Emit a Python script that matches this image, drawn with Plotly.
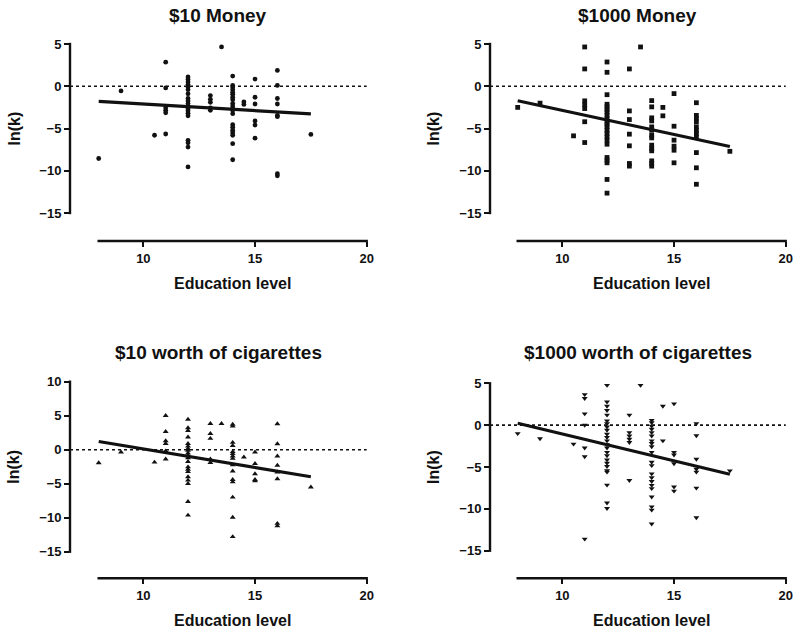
import plotly.graph_objects as go

# ---------------- data (education level -> ln(k) values) ----------------
money10 = {
    8: [-8.55], 9: [-0.55], 10.5: [-5.8],
    11: [2.85, -0.2, -2.55, -2.85, -3.15, -5.65],
    12: [1.1, 0.8, 0.5, 0.2, -0.1, -0.4, -0.9, -1.45, -1.75, -2.05, -2.35, -2.65,
         -2.9, -3.2, -3.5, -6.4, -6.7, -7.2, -9.55],
    13: [-1.1, -1.55, -1.9, -2.55, -2.85],
    13.5: [4.65],
    14: [1.2, 0.1, -0.1, -0.4, -0.7, -0.95, -1.3, -1.6, -2.05, -2.35, -2.65, -2.85,
         -3.25, -4.55, -4.85, -5.2, -5.5, -5.8, -6.8, -8.7],
    14.5: [-1.85, -2.15],
    15: [0.85, -1.3, -2.1, -4.1, -4.6, -6.15],
    16: [1.87, 0.1, -1.45, -2.1, -3.45, -3.6, -10.35, -10.6],
    17.5: [-5.7],
}
money1000 = {
    8: [-2.5], 9: [-2.0], 10.5: [-5.87],
    11: [4.65, 2.05, -1.73, -2.17, -2.64, -4.2, -6.66],
    12: [2.87, 1.65, -1.0, -2.13, -2.44, -2.76, -3.07, -3.43, -3.82, -4.22, -4.49,
         -4.81, -5.2, -5.59, -5.99, -6.38, -6.86, -8.43, -8.75, -9.06, -11.03, -12.65],
    13: [2.05, -2.92, -3.94, -5.67, -7.05, -9.14, -9.45],
    13.5: [4.65],
    14: [-1.7, -2.44, -3.74, -4.1, -4.81, -5.2, -5.79, -6.11, -6.97, -7.37, -7.64,
         -8.83, -9.14, -9.45],
    14.5: [-2.5, -3.5],
    15: [-0.87, -4.73, -6.38, -7.09, -7.57, -9.06],
    16: [-1.95, -3.45, -3.8, -4.2, -4.8, -5.2, -5.6, -6.0, -7.85, -9.65, -11.6],
    17.5: [-7.7],
}
cig10 = {
    8: [-1.95], 9: [-0.35], 10.5: [-1.85],
    11: [5.0, 2.65, 1.3, 0.9, -0.2, -1.4],
    12: [4.45, 3.2, 2.8, 1.85, 0.9, 0.5, 0.15, -0.1, -0.5, -0.85, -1.2, -1.75,
         -2.55, -2.9, -3.25, -4.0, -4.5, -5.0, -7.65, -9.65],
    13: [3.82, 2.35, 1.65, -1.4, -1.9],
    13.5: [3.82],
    14: [3.72, 3.45, 1.05, 0.6, -0.3, -0.6, -0.95, -1.3, -2.25, -3.15, -4.4, -4.75,
         -7.0, -9.95, -12.8],
    14.5: [-1.1],
    15: [-0.35, -2.05, -3.55, -4.4, -4.6],
    16: [3.8, 0.85, -0.95, -2.3, -3.3, -4.3, -10.85, -11.2],
    17.5: [-5.5],
}
cig1000 = {
    8: [-1.0], 9: [-1.6], 10.5: [-2.25],
    11: [3.67, 3.2, 1.37, 0.0, -2.72, -3.75, -13.6],
    12: [4.77, 2.79, 2.28, 1.77, 1.22, 0.51, 0.19, -0.2, -0.59, -1.07, -1.46, -1.86,
         -2.33, -2.72, -3.24, -3.63, -4.14, -4.54, -4.93, -5.41, -5.6, -7.15, -9.28, -9.94],
    13: [1.22, -0.87, -1.27, -1.66, -2.06, -6.6],
    13.5: [4.77],
    14: [0.59, 0.31, -0.1, -0.47, -0.87, -1.27, -1.86, -2.17, -2.57, -3.24, -4.42,
         -4.82, -5.8, -6.27, -6.71, -7.18, -7.57, -8.57, -9.75, -10.14, -11.8],
    14.5: [2.28, -1.86],
    15: [2.56, -3.24, -3.55, -4.6, -7.38, -7.86],
    16: [0.2, -1.25, -4.05, -5.25, -5.6, -7.5, -11.05],
    17.5: [-5.45],
}

titles = ["$10 Money", "$1000 Money", "$10 worth of cigarettes", "$1000 worth of cigarettes"]
datasets = [money10, money1000, cig10, cig1000]
symbols = ["circle", "square", "triangle-up", "triangle-down"]
fit_slope = [-0.155, -0.57, -0.545, -0.64]
fit_intercept = [-0.56, 2.84, 5.56, 5.34]
y_spans = [[-15, 5], [-15, 5], [-15, 10], [-15, 5]]
y_ticks = [[5, 0, -5, -10, -15], [5, 0, -5, -10, -15],
           [10, 5, 0, -5, -10, -15], [5, 0, -5, -10, -15]]
x_ticks = [10, 15, 20]
x_span = [8, 20]

# ---------------- layout (pixel geometry) ----------------
W, H = 800, 633
# per panel: y-axis x px, x-axis left/right px (x=8 / x=20), y-axis top/bottom px, x-axis y px
geom = [
    dict(yax=70, xl=98.7, xr=366.7, yt=44, yb=213, xay=241, ty=15, xty=283, ylx=14),
    dict(yax=490, xl=517.7, xr=785.7, yt=44, yb=213, xay=241, ty=15, xty=283, ylx=433),
    dict(yax=70, xl=98.7, xr=366.7, yt=381.7, yb=551.7, xay=578.3, ty=353, xty=620, ylx=14),
    dict(yax=490, xl=517.7, xr=785.7, yt=383.3, yb=550.7, xay=578.3, ty=353, xty=620, ylx=433),
]

FONT = "Liberation Sans, Arial, Helvetica, sans-serif"
INK = "#111111"
AXW = 2.4

fig = go.Figure()
layout = dict(width=W, height=H, margin=dict(l=0, r=0, t=0, b=0, pad=0),
              paper_bgcolor="white", plot_bgcolor="white", showlegend=False,
              font=dict(family=FONT, color=INK))
annotations = []
shapes = []

for i, (data, g) in enumerate(zip(datasets, geom)):
    n = i + 1
    xs, ys = [], []
    for edu, vals in data.items():
        for v in vals:
            xs.append(edu)
            ys.append(v)
    xname = "x" if n == 1 else f"x{n}"
    yname = "y" if n == 1 else f"y{n}"
    fig.add_trace(go.Scatter(x=xs, y=ys, mode="markers", xaxis=xname, yaxis=yname,
                             marker=dict(symbol=symbols[i], size=4.8 if i < 2 else 5.2,
                                         color=INK, line=dict(width=0)),
                             cliponaxis=False, hoverinfo="x+y"))
    x0, x1 = min(xs), max(xs)
    fig.add_trace(go.Scatter(x=[x0, x1],
                             y=[fit_intercept[i] + fit_slope[i] * x0,
                                fit_intercept[i] + fit_slope[i] * x1],
                             mode="lines", xaxis=xname, yaxis=yname,
                             line=dict(color=INK, width=3.2), cliponaxis=False))

    # Prism-style offset axes: extend ranges so axis lines sit apart from the data
    pxu_x = (g["xr"] - g["xl"]) / (x_span[1] - x_span[0])
    pxu_y = (g["yb"] - g["yt"]) / (y_spans[i][1] - y_spans[i][0])
    xr_full = [x_span[0] - (g["xl"] - g["yax"]) / pxu_x, x_span[1]]
    yr_full = [y_spans[i][0] - (g["xay"] - g["yb"]) / pxu_y, y_spans[i][1]]

    axis_common = dict(showline=False, ticks="outside", ticklen=5, tickwidth=2,
                       tickcolor=INK, showgrid=False, zeroline=False, automargin=False,
                       tickfont=dict(family=FONT, size=13, color=INK, weight="bold"))
    layout[f"xaxis{'' if n == 1 else n}"] = dict(
        axis_common, domain=[g["yax"] / W, g["xr"] / W], range=xr_full,
        tickvals=x_ticks, anchor=yname)
    layout[f"yaxis{'' if n == 1 else n}"] = dict(
        axis_common, domain=[1 - g["xay"] / H, 1 - g["yt"] / H], range=yr_full,
        tickvals=y_ticks[i], anchor=xname)

    # axis lines drawn in paper space: x axis spans 8..20, y axis spans its tick range
    shapes.append(dict(type="line", xref="paper", yref="paper",
                       x0=(g["xl"] - AXW / 2) / W, x1=(g["xr"] + AXW / 2) / W,
                       y0=1 - g["xay"] / H, y1=1 - g["xay"] / H,
                       line=dict(color=INK, width=AXW)))
    shapes.append(dict(type="line", xref="paper", yref="paper",
                       x0=g["yax"] / W, x1=g["yax"] / W,
                       y0=1 - (g["yb"] + AXW / 2) / H, y1=1 - (g["yt"] - AXW / 2) / H,
                       line=dict(color=INK, width=AXW)))
    # dashed reference line at ln(k)=0
    xdom = f"{xname} domain"
    shapes.append(dict(type="line", xref=xdom, yref=yname, x0=0, x1=1, y0=0, y1=0,
                       line=dict(color=INK, width=1.6, dash="3px,3px")))

    annotations.append(dict(text=titles[i], xref="paper", yref="paper",
                            x=(g["yax"] + g["xr"]) / 2 / W, y=1 - g["ty"] / H,
                            xanchor="center", yanchor="middle", showarrow=False,
                            font=dict(family=FONT, size=19, color=INK, weight="bold")))
    annotations.append(dict(text="Education level", xref="paper", yref="paper",
                            x=(g["xl"] + g["xr"]) / 2 / W, y=1 - g["xty"] / H,
                            xanchor="center", yanchor="middle", showarrow=False,
                            font=dict(family=FONT, size=16, color=INK, weight="bold")))
    annotations.append(dict(text="ln(k)", xref="paper", yref="paper",
                            x=g["ylx"] / W, y=1 - (g["yt"] + g["yb"]) / 2 / H,
                            xanchor="center", yanchor="middle", showarrow=False,
                            textangle=-90,
                            font=dict(family=FONT, size=16, color=INK, weight="bold")))

layout["annotations"] = annotations
layout["shapes"] = shapes
fig.update_layout(**layout)
fig.write_html("out.html",
               config={"displayModeBar": False},
               post_script="document.body.style.margin='0';"
                           "document.body.style.padding='0';"
                           "document.body.style.overflow='hidden';")
